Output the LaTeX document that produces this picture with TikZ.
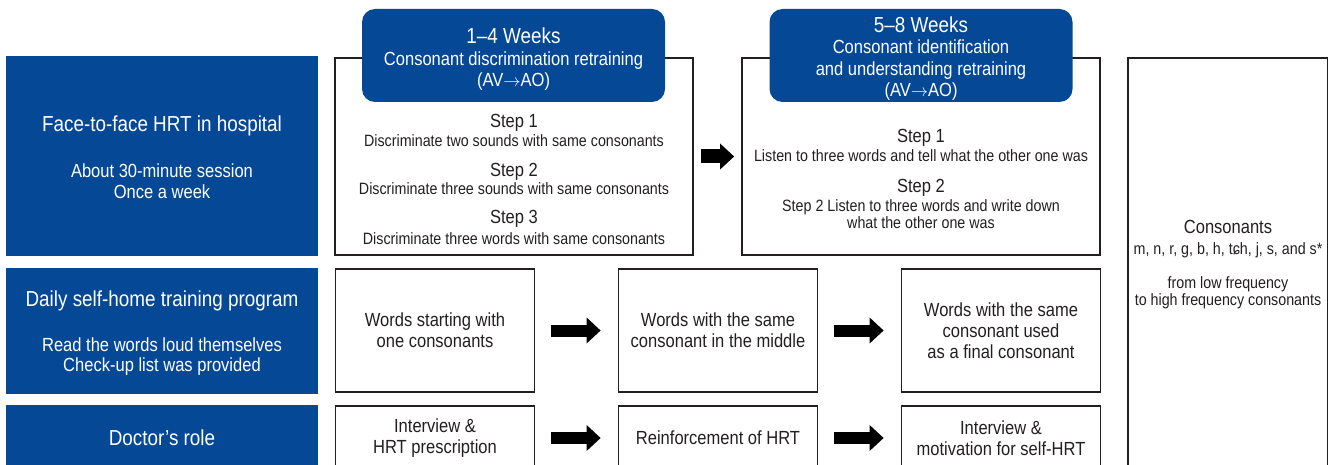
\documentclass[tikz,border=0pt]{standalone}
\usepackage{fontspec}
\setmainfont{Liberation Sans}[FakeStretch=0.87]
\usepackage{tikz}
\usetikzlibrary{arrows.meta}
\definecolor{hrtblue}{RGB}{5,72,150}
\definecolor{ink}{RGB}{35,31,32}
\newcommand{\avao}{(AV$\rightarrow$AO)}

\begin{document}
\begin{tikzpicture}[x=1pt, y=-1pt, text=ink, node distance=21pt,
    >={Triangle[length=14pt, width=26pt, line width=0pt]}]
	\tikzstyle{side} = [fill=hrtblue, minimum width=312pt, inner sep=0pt]
	\tikzstyle{sidetext} = [text=white, align=center, inner sep=0pt]
	\tikzstyle{frame} = [draw=ink, line width=1.8pt, inner sep=0pt, align=center,
	  font=\fontsize{19}{21}\selectfont]
	\tikzstyle{head} = [fill=hrtblue, rounded corners=13pt, minimum width=303pt,
	  minimum height=93pt, inner sep=0pt]
	\tikzstyle{headtext} = [text=white, inner sep=0pt, align=center, font=\fontsize{19}{21.5}\selectfont]
	\tikzstyle{big} = [inner sep=0pt, font=\fontsize{21.7}{24}\selectfont]
	\tikzstyle{mid} = [inner sep=0pt, align=center, font=\fontsize{19}{20.5}\selectfont]
	\tikzstyle{small} = [inner sep=0pt, align=center, font=\fontsize{16.4}{17.5}\selectfont]
	\tikzstyle{shaft} = [line width=12pt, color=black]
	\useasboundingbox (0,0) rectangle (1328,465);
	\clip (0,0) rectangle (1328,465);

	% left column
	\path
	  node[side, minimum height=200pt] (face) at (162,156) {}
	  node[side, minimum height=126pt] (daily) at (162,331) {}
	  node[side, minimum height=66pt] (doctor) at (162,438) {}
	  node[sidetext, big] (facet) at (162,126) {Face-to-face HRT in hospital}
	  node[sidetext, mid, below of=facet, node distance=55pt] (faces) {About 30-minute session\\Once a week}
	  node[sidetext, big] (dailyt) at (162,301) {Daily self-home training program}
	  node[sidetext, mid, below of=dailyt, node distance=55.5pt] (dailys) {Read the words loud themselves\\Check-up list was provided}
	  node[sidetext, big] (doctort) at (162,438) {Doctor’s role}
	  ;

	% weeks 1-4 and 5-8
	\path
	  node[frame, minimum width=358pt, minimum height=197pt] (wk1) at (514,156.5) {}
	  node[frame, minimum width=358pt, minimum height=197pt] (wk2) at (921,156.5) {}
	  node[head] (hd1) at (513.5,55.5) {}
	  node[head] (hd2) at (921,55.5) {}
	  node[headtext] (hd1t) at (513.5,59.5) {{\fontsize{21.7}{24}\selectfont 1–4 Weeks}\\Consonant discrimination retraining\\\avao}
	  node[headtext] (hd2t) at (921,58.5) {{\fontsize{21.7}{24}\selectfont 5–8 Weeks}\\Consonant identification\\and understanding retraining\\\avao}
	  node[mid] (s1a) at (514,122.5) {Step 1}
	  node[small, below of=s1a, node distance=18.5pt] (d1a) {Discriminate two sounds with same consonants}
	  node[mid, below of=d1a, node distance=30.5pt] (s1b) {Step 2}
	  node[small, below of=s1b, node distance=17.5pt] (d1b) {Discriminate three sounds with same consonants}
	  node[mid, below of=d1b, node distance=29.5pt] (s1c) {Step 3}
	  node[small, below of=s1c, node distance=20pt] (d1c) {Discriminate three words with same consonants}
	  node[mid] (s2a) at (921,138) {Step 1}
	  node[small, below of=s2a, node distance=18pt] (d2a) {Listen to three words and tell what the other one was}
	  node[mid, below of=d2a, node distance=31.5pt] (s2b) {Step 2}
	  node[small, below of=s2b, node distance=26.5pt] (d2b) {Step 2 Listen to three words and write down\\what the other one was}
	  ;

	% consonant list
	\path
	  node[frame, minimum width=200pt, minimum height=410pt] (cons) at (1228,263) {}
	  node[mid] (const) at (1228,227) {Consonants}
	  node[small, below of=const, node distance=23pt] (consl) {m, n, r, g, b, h, tɕh, j, s, and s*}
	  node[small, below of=consl, node distance=43pt] (consf) {from low frequency\\to high frequency consonants}
	  ;

	% self-home training and doctor
	\path
	  node[frame, minimum width=199pt, minimum height=123pt] (w1) at (435,330.5) {Words starting with\\one consonants}
	  node[frame, minimum width=199pt, minimum height=123pt, right of=w1, node distance=283pt] (w2) {Words with the same\\consonant in the middle}
	  node[frame, minimum width=199pt, minimum height=123pt, right of=w2, node distance=283pt] (w3) {Words with the same\\consonant used\\as a final consonant}
	  node[frame, minimum width=199pt, minimum height=64pt] (r1) at (435,438) {Interview \&\\HRT prescription}
	  node[frame, minimum width=199pt, minimum height=64pt, right of=r1, node distance=283pt] (r2) {Reinforcement of HRT}
	  node[frame, minimum width=199pt, minimum height=64pt, right of=r2, node distance=283pt] (r3) {Interview \&\\motivation for self-HRT}
	  ;

	\path[->, shaft]
	  (wk1) edge[line width=14pt, shorten <=7pt, shorten >=7pt] (wk2)
	  (w1) edge[shorten <=16pt, shorten >=17pt] (w2)
	  (w2) edge[shorten <=16pt, shorten >=17pt] (w3)
	  (r1) edge[shorten <=16pt, shorten >=17pt] (r2)
	  (r2) edge[shorten <=16pt, shorten >=17pt] (r3)
	  ;
\end{tikzpicture}
\end{document}
